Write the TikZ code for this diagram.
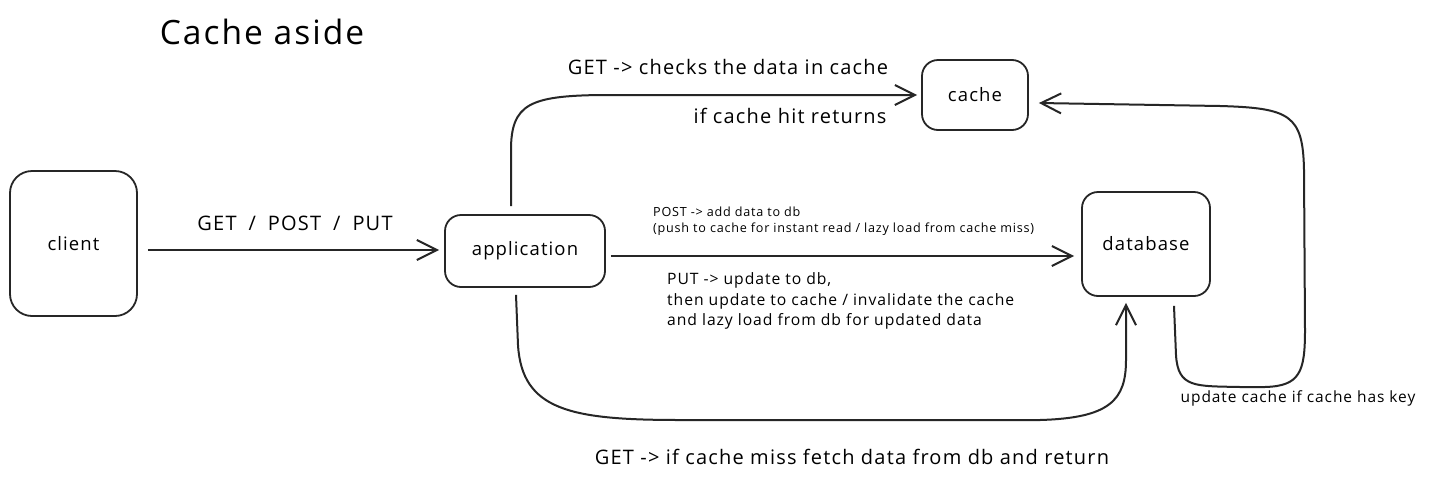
\documentclass[tikz,border=0pt]{standalone}
\usepackage{fontspec}
\setmainfont{Open Sans}[LetterSpace=6]
\usetikzlibrary{arrows.meta}
\begin{document}
\begin{tikzpicture}[x=1pt,y=-1pt,
  box/.style={draw=black!85,line width=1.8pt,rounded corners=16pt,minimum width=#1,font=\fontsize{18.5}{20}\selectfont},
  conn/.style={draw=black!85,line width=2pt,-{Straight Barb[length=20pt,width=20pt,line width=2pt]}},
  lbl/.style={font=\fontsize{20}{22}\selectfont,inner sep=0pt},
  small/.style={font=\fontsize{12.6}{16}\selectfont,inner sep=0pt,align=left},
  mid/.style={font=\fontsize{15.7}{20.5}\selectfont,inner sep=0pt,align=left}]
\useasboundingbox (0,0) rectangle (1433,480);
\fill[white] (0,0) rectangle (1433,480);
\node[font=\fontsize{33.5}{36}\selectfont,inner sep=0pt] (title) at (262,32) {Cache aside};
\node[box=127pt,minimum height=145pt,rounded corners=22pt] (client) at (73.5,243.5) {client};
\node[box=160pt,minimum height=72pt] (app) at (525,251) {application};
\node[box=106pt,minimum height=70pt] (cache) at (975,95) {cache};
\node[box=128pt,minimum height=104pt] (db) at (1146,244) {database};
% client -> app
\draw[conn] ([xshift=10pt,yshift=-6.5pt]client.east) -- ([xshift=-5pt,yshift=1pt]app.west);
\node[lbl] (l1) at (295,223) {GET\hspace{0.6em}/\hspace{0.6em}POST\hspace{0.6em}/\hspace{0.6em}PUT};
% app -> cache
\draw[conn] ([xshift=-14pt,yshift=8pt]app.north) -- (511,150) .. controls (511,104) and (530,96) .. (600,95) -- ([xshift=-4pt]cache.west);
\node[lbl] (l2) at (728,67) {GET -> checks the data in cache};
\node[lbl] (l3) at (790,116) {if cache hit returns};
% app -> db
\draw[conn] ([xshift=5pt,yshift=-5pt]app.east) -- ([xshift=-7pt,yshift=-12pt]db.west);
\node[small,anchor=west] (l4) at (653,221) {POST -> add data to db\\(push to cache for instant read / lazy load from cache miss)};
\node[mid,anchor=west] (l5) at (667,301) {PUT -> update to db,\\then update to cache / invalidate the cache\\and lazy load from db for updated data};
% app -> db via bottom
\draw[conn] ([xshift=-9pt,yshift=-7pt]app.south) -- (518,345) .. controls (522,410) and (570,420) .. (680,420) -- (1040,420) .. controls (1110,418) and (1126,400) .. (1126,360) -- ([xshift=-20pt,yshift=-6pt]db.south);
\node[lbl] (l6) at (852,457) {GET -> if cache miss fetch data from db and return};
% db -> cache
\draw[conn] ([xshift=28pt,yshift=-9pt]db.south) -- (1176,355) .. controls (1178,388) and (1195,386) .. (1240,387) -- (1265,387) .. controls (1300,386) and (1305,372) .. (1305,330) -- (1304,170) .. controls (1303,115) and (1290,108) .. (1220,106) -- ([xshift=10pt,yshift=-8pt]cache.east);
\node[font=\fontsize{15.5}{18}\selectfont,inner sep=0pt] (l7) at (1298,398) {update cache if cache has key};
\end{tikzpicture}
\end{document}
